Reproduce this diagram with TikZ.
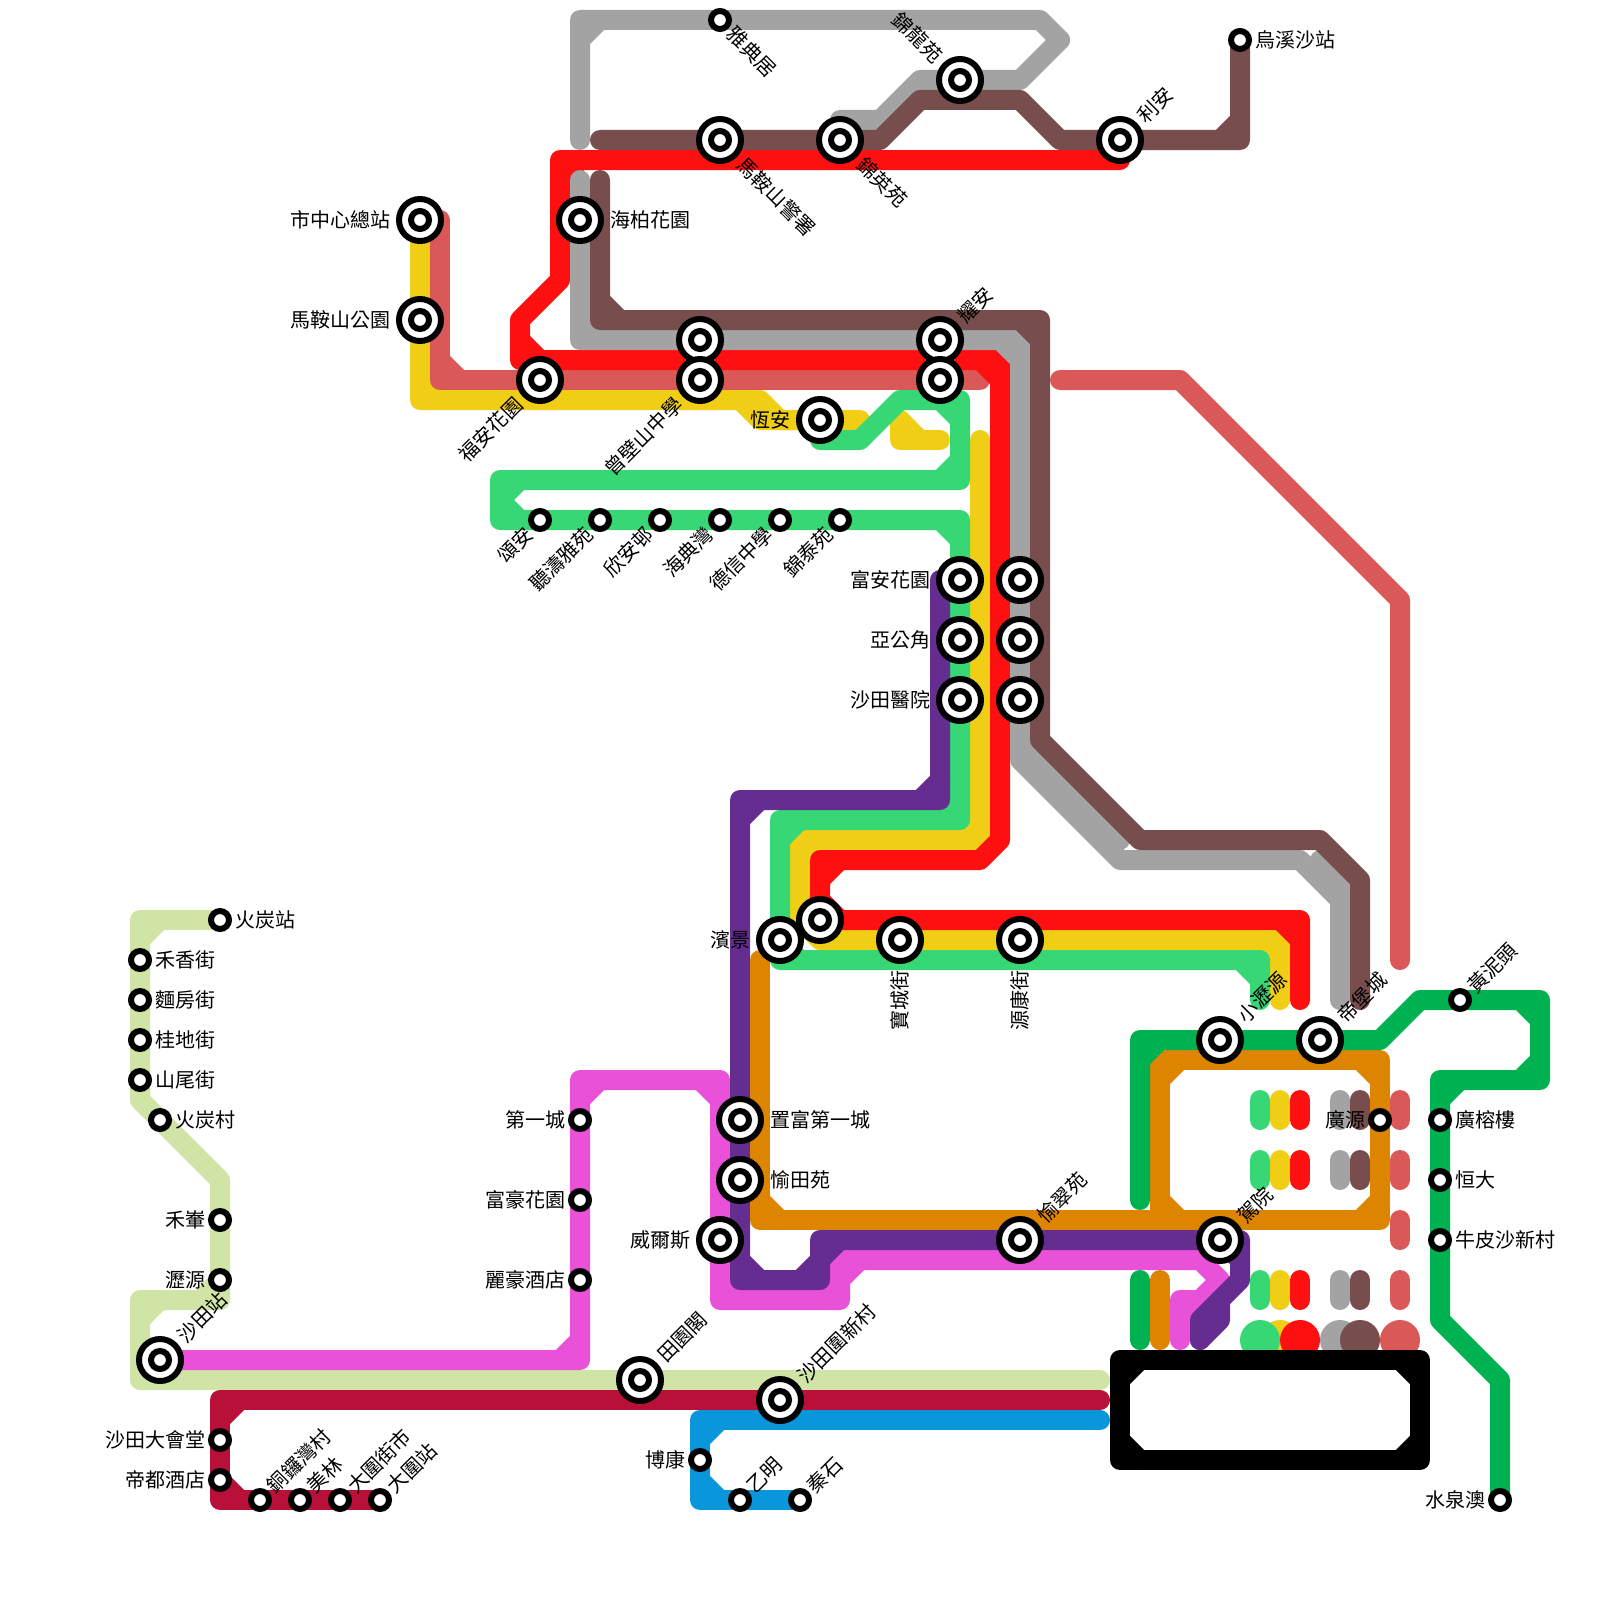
\documentclass[tikz,border=0pt]{standalone}
\usepackage{fontspec}
\setmainfont{Noto Sans CJK TC}
\usetikzlibrary{calc}
\pgfdeclarelayer{lines}
\pgfsetlayers{lines,main}
\definecolor{cred}{HTML}{FF1010}
\definecolor{cgreen}{HTML}{37D776}
\definecolor{cyellow}{HTML}{F0CE15}
\definecolor{cgray}{HTML}{A3A3A3}
\definecolor{cbrown}{HTML}{774D4D}
\definecolor{crose}{HTML}{DB5858}
\definecolor{cpurple}{HTML}{662D91}
\definecolor{cmagenta}{HTML}{EA51D9}
\definecolor{cpale}{HTML}{D0E4A5}
\definecolor{ccrimson}{HTML}{B91039}
\definecolor{cblue}{HTML}{0A96DA}
\definecolor{corange}{HTML}{DD8500}
\definecolor{cdark}{HTML}{00B152}
\tikzset{
  metroline/.style={line width=10pt,line cap=round,line join=round},
  ringst/.style={circle,draw=black,fill=white,line width=3pt,inner sep=0pt,outer sep=0pt,minimum size=21pt},
  corest/.style={circle,draw=black,fill=white,line width=3pt,inner sep=0pt,outer sep=0pt,minimum size=9pt},
  txt/.style={inner sep=0pt,outer sep=0pt,font=\fontsize{10pt}{12pt}\selectfont},
  labA/.style 2 args={txt,rotate=#1,anchor=west,xshift=#2},
  labB/.style 2 args={txt,rotate=#1,anchor=east,xshift=-#2},
}
\newcommand\metro[2]{%
  \foreach \q [count=\i] in {#2}{\path \q coordinate (m\i); \xdef\mn{\i}}%
  \path[metroline,draw=#1] (m1) \foreach \i in {2,...,\mn}{ -- (m\i)};%
  \pgfmathtruncatemacro\mm{\mn-1}%
  \ifnum\mm>1
    \foreach \i [evaluate=\i as \a using int(\i-1), evaluate=\i as \b using int(\i+1)] in {2,...,\mm}{%
      \path let \p1=($(m\i)-(m\a)$),\p2=($(m\b)-(m\i)$) in
        \pgfextra{\pgfmathtruncatemacro\doch{and(or(abs(\x1)<0.1,abs(\y1)<0.1),or(abs(\x2)<0.1,abs(\y2)<0.1))}\global\let\gdoch\doch};%
      \ifnum\gdoch=1
        \draw[metroline,draw=#1] ($(m\i)!10pt!(m\a)$) -- ($(m\i)!10pt!(m\b)$);%
      \fi}%
  \fi
}
\newcommand\bigst[2]{\node[ringst] (#1) at (#2) {}; \node[corest] (#1c) at (#2) {};}
\newcommand\smst[2]{\node[corest] (#1) at (#2) {};}
\begin{document}
\begin{tikzpicture}[x=0.5pt,y=-0.5pt]
\useasboundingbox (0,0) rectangle (1600,1600);
% stations
\bigst{shizhongxin}{420,220}
\bigst{maanshangy}{420,320}
\bigst{haibo}{580,220}
\bigst{fuanhy}{540,380}
\bigst{zengbiA}{700,340}
\bigst{zengbi}{700,380}
\bigst{yaoanA}{940,340}
\bigst{yaoan}{940,380}
\bigst{hengan}{820,420}
\bigst{fuan}{960,580}
\bigst{yagong}{960,640}
\bigst{styy}{960,700}
\bigst{fuanB}{1020,580}
\bigst{yagongB}{1020,640}
\bigst{styyB}{1020,700}
\bigst{jinlong}{960,80}
\bigst{jingshu}{720,140}
\bigst{jinying}{840,140}
\bigst{lian}{1120,140}
\bigst{binjing}{780,940}
\bigst{binjingB}{820,920}
\bigst{baocheng}{900,940}
\bigst{yuankang}{1020,940}
\bigst{xiaoliyuan}{1220,1040}
\bigst{dibao}{1320,1040}
\bigst{zhifu}{740,1120}
\bigst{yutian}{740,1180}
\bigst{weiers}{720,1240}
\bigst{yucui}{1020,1240}
\bigst{jiayuan}{1220,1240}
\bigst{tianyuan}{640,1380}
\bigst{shatianwei}{780,1400}
\bigst{shatian}{160,1360}
\smst{yadian}{720,20}
\smst{wuxisha}{1240,40}
\smst{songan}{540,520}
\smst{tingtao}{600,520}
\smst{xinan}{660,520}
\smst{haidian}{720,520}
\smst{dexin}{780,520}
\smst{jintai}{840,520}
\smst{huotan}{220,920}
\smst{hexiang}{140,960}
\smst{mianfang}{140,1000}
\smst{guidi}{140,1040}
\smst{shanwei}{140,1080}
\smst{huotancun}{160,1120}
\smst{heche}{220,1220}
\smst{liyuan}{220,1280}
\smst{dahuitang}{220,1440}
\smst{didu}{220,1480}
\smst{tongluo}{260,1500}
\smst{meilin}{300,1500}
\smst{jieshi}{340,1500}
\smst{daweizhan}{380,1500}
\smst{diyicheng}{580,1120}
\smst{fuhao}{580,1200}
\smst{lihao}{580,1280}
\smst{bokang}{700,1460}
\smst{yiming}{740,1500}
\smst{qinshi}{800,1500}
\smst{guangyuan}{1380,1120}
\smst{guangrong}{1440,1120}
\smst{hengda}{1440,1180}
\smst{niupi}{1440,1240}
\smst{huangni}{1460,1000}
\smst{shuiquan}{1500,1500}
% lines
\begin{pgfonlayer}{lines}
\metro{cpale}{(huotan),(140,920),(140,1100),(220,1180),(220,1300),(140,1300),(140,1380),(1100,1380)}
\metro{ccrimson}{(1100,1400),(220,1400),(220,1500),(daweizhan)}
\metro{cblue}{(1100,1420),(700,1420),(700,1500),(qinshi)}
\metro{cyellow}{(420,220),(420,400),(760,400),(780,420),(860,420)}
\metro{cyellow}{(740,400),(760,420),(800,420)}
\metro{cyellow}{(900,420),(900,440),(940,440)}
\metro{cyellow}{(980,440),(980,840),(800,840),(800,920),(820,940),(1280,940),(1280,1000)}
\metro{cgreen}{(820,440),(860,440),(900,400),(960,400),(960,480),(500,480),(500,520),(960,520),(960,820),(780,820),(780,960),(1260,960),(1260,1000)}
\metro{cmagenta}{(shatian),(580,1360),(580,1080),(720,1080),(720,1300),(840,1300),(840,1260),(1200,1260),(1220,1280),(1200,1300),(1180,1300),(1180,1340)}
\metro{cpurple}{(940,580),(940,800),(740,800),(740,1280),(820,1280),(820,1240),(1240,1240),(1240,1280),(1200,1320),(1200,1340)}
\metro{cpurple}{(1220,1300),(1220,1320),(1200,1340)}
\metro{crose}{(440,220),(440,380),(980,380)}
\metro{crose}{(1060,380),(1180,380),(1400,600),(1400,960)}
\metro{cred}{(1120,160),(560,160),(560,280),(520,320),(520,360),(1000,360),(1000,840),(980,860),(820,860),(binjingB),(1300,920),(1300,1000)}
\metro{cgray}{(580,140),(580,20),(1040,20),(1060,40)}
\metro{cgray}{(1060,40),(1020,80),(920,80),(880,120),(840,120),(jinying)}
\metro{cgray}{(580,180),(580,340),(1020,340),(1020,760),(1120,860),(1300,860),(1340,900),(1340,1000)}
\metro{cgray}{(1020,740),(1120,840)}
\metro{cgray}{(1320,860),(1342,882),(1342,905)}
\metro{cbrown}{(600,140),(880,140),(920,100),(1020,100),(1060,140),(1240,140),(wuxisha)}
\metro{cbrown}{(600,180),(600,320),(1040,320),(1040,740),(1140,840),(1320,840),(1360,880),(1360,1000)}
\metro{corange}{(760,960),(760,1220),(1380,1220),(1380,1060),(1160,1060),(1160,1220),(1200,1220)}
\metro{cdark}{(1140,1200),(1140,1040),(1380,1040),(1420,1000),(1540,1000),(1540,1080),(1440,1080),(1440,1320),(1500,1380),(shuiquan)}
\metro{cdark}{(1140,1280),(1140,1340)}
\metro{corange}{(1160,1280),(1160,1340)}
\foreach \xp/\cc in {1280/cyellow,1260/cgreen,1300/cred,1340/cgray,1360/cbrown,1400/crose}{
  \foreach \yp in {1100,1160,1280}{
    \draw[metroline,draw=\cc] (\xp,\yp) -- ++(0,20);
  }
  \fill[\cc] (\xp,1340) circle[radius=10pt];
}
\draw[metroline,draw=crose] (1400,1220) -- (1400,1240);
\metro{black}{(1200,1360),(1420,1360),(1420,1460),(1120,1460),(1120,1360),(1200,1360)}
\end{pgfonlayer}
% labels
\node[labB={0}{15pt}] (t1) at (shizhongxin) {市中心總站};
\node[labB={0}{15pt}] (t2) at (maanshangy) {馬鞍山公園};
\node[labA={0}{15pt}] (t3) at (haibo) {海柏花園};
\node[labB={45}{15pt}] (t4) at (fuanhy) {福安花園};
\node[labB={45}{15pt}] (t5) at (zengbi) {曾壁山中學};
\node[labA={45}{15pt}] (t6) at (yaoanA) {耀安};
\node[labB={0}{15pt}] (t7) at (hengan) {恆安};
\node[labB={0}{15pt}] (t8) at (fuan) {富安花園};
\node[labB={0}{15pt}] (t9) at (yagong) {亞公角};
\node[labB={0}{15pt}] (t10) at (styy) {沙田醫院};
\node[labB={-45}{15pt}] (t11) at (jinlong) {錦龍苑};
\node[labA={-45}{15pt}] (t12) at (jingshu) {馬鞍山警署};
\node[labA={-45}{15pt}] (t13) at (jinying) {錦英苑};
\node[labA={45}{15pt}] (t14) at (lian) {利安};
\node[labB={0}{15pt}] (t15) at (binjing) {濱景};
\node[labB={90}{15pt}] (t16) at (baocheng) {寶城街};
\node[labB={90}{15pt}] (t17) at (yuankang) {源康街};
\node[labA={45}{15pt}] (t18) at (xiaoliyuan) {小瀝源};
\node[labA={45}{15pt}] (t19) at (dibao) {帝堡城};
\node[labA={0}{15pt}] (t20) at (zhifu) {置富第一城};
\node[labA={0}{15pt}] (t21) at (yutian) {愉田苑};
\node[labB={0}{15pt}] (t22) at (weiers) {威爾斯};
\node[labA={45}{15pt}] (t23) at (yucui) {愉翠苑};
\node[labA={45}{15pt}] (t24) at (jiayuan) {駕院};
\node[labA={45}{15pt}] (t25) at (tianyuan) {田園閣};
\node[labA={45}{15pt}] (t26) at (shatianwei) {沙田圍新村};
\node[labA={45}{15pt}] (t27) at (shatian) {沙田站};
\node[labA={-45}{7.5pt}] (t28) at (yadian) {雅典居};
\node[labA={0}{7.5pt}] (t29) at (wuxisha) {烏溪沙站};
\node[labB={45}{7.5pt}] (t30) at (songan) {頌安};
\node[labB={45}{7.5pt}] (t31) at (tingtao) {聽濤雅苑};
\node[labB={45}{7.5pt}] (t32) at (xinan) {欣安邨};
\node[labB={45}{7.5pt}] (t33) at (haidian) {海典灣};
\node[labB={45}{7.5pt}] (t34) at (dexin) {德信中學};
\node[labB={45}{7.5pt}] (t35) at (jintai) {錦泰苑};
\node[labA={0}{7.5pt}] (t36) at (huotan) {火炭站};
\node[labA={0}{7.5pt}] (t37) at (hexiang) {禾香街};
\node[labA={0}{7.5pt}] (t38) at (mianfang) {麵房街};
\node[labA={0}{7.5pt}] (t39) at (guidi) {桂地街};
\node[labA={0}{7.5pt}] (t40) at (shanwei) {山尾街};
\node[labA={0}{7.5pt}] (t41) at (huotancun) {火炭村};
\node[labB={0}{7.5pt}] (t42) at (heche) {禾輋};
\node[labB={0}{7.5pt}] (t43) at (liyuan) {瀝源};
\node[labB={0}{7.5pt}] (t44) at (dahuitang) {沙田大會堂};
\node[labB={0}{7.5pt}] (t45) at (didu) {帝都酒店};
\node[labA={45}{7.5pt}] (t46) at (tongluo) {銅鑼灣村};
\node[labA={45}{7.5pt}] (t47) at (meilin) {美林};
\node[labA={45}{7.5pt}] (t48) at (jieshi) {大圍街市};
\node[labA={45}{7.5pt}] (t49) at (daweizhan) {大圍站};
\node[labB={0}{7.5pt}] (t50) at (diyicheng) {第一城};
\node[labB={0}{7.5pt}] (t51) at (fuhao) {富豪花園};
\node[labB={0}{7.5pt}] (t52) at (lihao) {麗豪酒店};
\node[labB={0}{7.5pt}] (t53) at (bokang) {博康};
\node[labA={45}{7.5pt}] (t54) at (yiming) {乙明};
\node[labA={45}{7.5pt}] (t55) at (qinshi) {秦石};
\node[labB={0}{7.5pt}] (t56) at (guangyuan) {廣源};
\node[labA={0}{7.5pt}] (t57) at (guangrong) {廣榕樓};
\node[labA={0}{7.5pt}] (t58) at (hengda) {恒大};
\node[labA={0}{7.5pt}] (t59) at (niupi) {牛皮沙新村};
\node[labA={45}{7.5pt}] (t60) at (huangni) {黃泥頭};
\node[labB={0}{7.5pt}] (t61) at (shuiquan) {水泉澳};
\end{tikzpicture}
\end{document}
